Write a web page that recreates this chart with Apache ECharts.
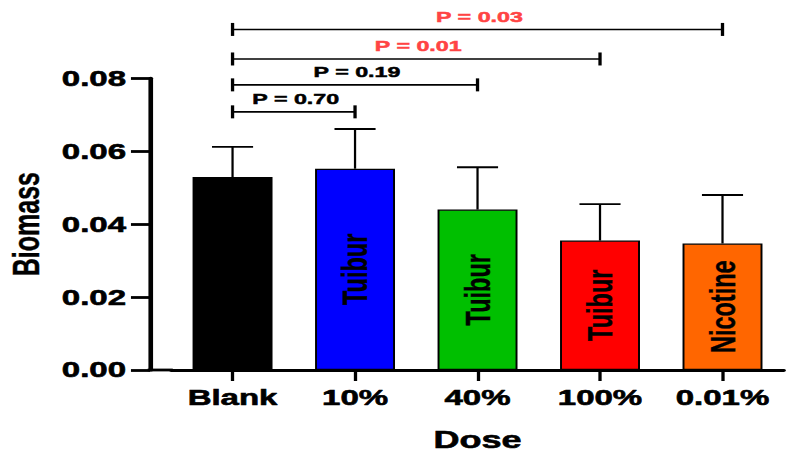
<!DOCTYPE html>
<html>
<head>
<meta charset="utf-8">
<script src="https://cdn.jsdelivr.net/npm/echarts@6/dist/echarts.min.js"></script>
<style>
html,body{margin:0;padding:0;background:#fff;overflow:hidden;width:795px;height:455px;}
#wrap{width:795px;height:455px;overflow:hidden;position:relative;}
#chart{position:absolute;left:0;top:0;width:530px;height:455px;transform:scaleX(1.5);transform-origin:0 0;}
</style>
</head>
<body>
<div id="wrap"><div id="chart"></div></div>
<script>
// ---- data ----
const categories = ['Blank', '10%', '40%', '100%', '0.01%'];
const means = [0.0529, 0.0552, 0.0440, 0.0355, 0.0347];
const sds = [0.0083, 0.0109, 0.0116, 0.0100, 0.0133];
const barTexts = ['', 'Tuibur', 'Tuibur', 'Tuibur', 'Nicotine'];
const yTicks = [0, 0.02, 0.04, 0.06, 0.08];
const bracketStart = [0, 0, 0, 0];
const bracketEnd = [1, 2, 3, 4];
const bracketLevel = [0.0708, 0.0782, 0.0853, 0.0934];
const pValues = [0.70, 0.19, 0.01, 0.03];

// ---- style ----
const barColors = ['#000000', '#0000FF', '#00BF00', '#FF0000', '#FF6600'];
const FONT = '"Liberation Sans", Arial, Helvetica, sans-serif';
const gridLeft = 114.2, gridTop = 78.3, gridWidth = 408.3, gridHeight = 291.7;
const yAxisX = 100;
const AXW = 2.8;
const YAXW = 3.1;
const heavy = {textBorderColor: '#000', textBorderWidth: 0.6};

const chart = echarts.init(document.getElementById('chart'), null, {renderer: 'svg', width: 530, height: 455});

const errData = means.map((m, i) => [i, m, m + sds[i]]);
const bracketData = bracketStart.map((s, i) => [s, bracketEnd[i], bracketLevel[i], pValues[i]]);

const option = {
  animation: false,
  backgroundColor: '#fff',
  grid: {left: gridLeft, top: gridTop, width: gridWidth, height: gridHeight, containLabel: false, outerBoundsMode: 'none'},
  xAxis: {
    type: 'category',
    data: categories,
    boundaryGap: true,
    name: 'Dose',
    nameLocation: 'middle',
    nameGap: 57,
    nameTextStyle: Object.assign({fontFamily: FONT, fontWeight: 'bold', fontSize: 24, color: '#000'}, heavy),
    axisLine: {show: true, lineStyle: {color: '#000', width: AXW}},
    axisTick: {show: true, alignWithLabel: true, length: 11, lineStyle: {color: '#000', width: 2.2}},
    axisLabel: Object.assign({interval: 0, hideOverlap: false, margin: 17, fontFamily: FONT, fontWeight: 'bold', fontSize: 22, color: '#000'}, heavy),
    splitLine: {show: false}
  },
  yAxis: {
    type: 'value',
    min: yTicks[0],
    max: yTicks[yTicks.length - 1],
    interval: yTicks[1] - yTicks[0],
    offset: gridLeft - yAxisX,
    name: 'Biomass',
    nameLocation: 'middle',
    nameGap: 67,
    nameTextStyle: {fontFamily: FONT, fontWeight: 'bold', fontSize: 25, color: '#000', textBorderColor: '#000', textBorderWidth: 0.3},
    axisLine: {show: true, lineStyle: {color: '#000', width: YAXW}},
    axisTick: {show: true, length: 12.7, lineStyle: {color: '#000', width: AXW}},
    axisLabel: Object.assign({margin: 16, fontFamily: FONT, fontWeight: 'bold', fontSize: 22, color: '#000',
      formatter: v => v.toFixed(2)}, heavy),
    splitLine: {show: false}
  },
  graphic: [{
    type: 'line',
    shape: {x1: yAxisX - YAXW / 2, y1: gridTop + gridHeight, x2: gridLeft + 1, y2: gridTop + gridHeight},
    style: {stroke: '#000', lineWidth: AXW}
  }],
  series: [
    {
      type: 'bar',
      barWidth: 53.3,
      data: means.map((m, i) => ({
        value: m,
        itemStyle: {color: barColors[i], borderColor: '#000', borderWidth: 1.3}
      })),
      label: {
        show: true,
        position: 'inside',
        rotate: 90,
        fontFamily: FONT,
        fontWeight: 'bold',
        fontSize: 23.5,
        color: '#000',
        textBorderColor: '#000',
        textBorderWidth: 0.3,
        formatter: p => barTexts[p.dataIndex]
      },
      z: 2
    },
    {
      type: 'custom',
      data: errData,
      encode: {x: 0, y: [1, 2]},
      z: 3,
      renderItem: (params, api) => {
        const base = api.coord([api.value(0), api.value(1)]);
        const top = api.coord([api.value(0), api.value(2)]);
        const cap = 13.7;
        return {
          type: 'group',
          children: [
            {type: 'line', shape: {x1: base[0], y1: base[1], x2: top[0], y2: top[1]},
             style: {stroke: '#000', lineWidth: 1.5}},
            {type: 'line', shape: {x1: top[0] - cap, y1: top[1], x2: top[0] + cap, y2: top[1]},
             style: {stroke: '#000', lineWidth: 1.8}}
          ]
        };
      }
    },
    {
      type: 'custom',
      data: bracketData,
      encode: {x: [0, 1], y: 2},
      clip: false,
      z: 4,
      renderItem: (params, api) => {
        const a = api.coord([api.value(0), api.value(2)]);
        const b = api.coord([api.value(1), api.value(2)]);
        const p = api.value(3);
        const col = p < 0.05 ? '#FF4444' : '#000';
        const h = 6.5;
        return {
          type: 'group',
          children: [
            {type: 'line', shape: {x1: a[0], y1: a[1], x2: b[0], y2: b[1]},
             style: {stroke: '#000', lineWidth: 1.6}},
            {type: 'line', shape: {x1: a[0], y1: a[1] - h, x2: a[0], y2: a[1] + h},
             style: {stroke: '#000', lineWidth: 2.2}},
            {type: 'line', shape: {x1: b[0], y1: b[1] - h, x2: b[0], y2: b[1] + h},
             style: {stroke: '#000', lineWidth: 2.2}},
            {type: 'text', x: (a[0] + b[0]) / 2 + 1.3, y: a[1] - 13,
             style: {text: 'P = ' + p.toFixed(2), fill: col, align: 'center', verticalAlign: 'middle',
               font: 'bold 15.5px ' + FONT, stroke: col, lineWidth: 0.5}}
          ]
        };
      }
    }
  ]
};
chart.setOption(option);
</script>
</body>
</html>
